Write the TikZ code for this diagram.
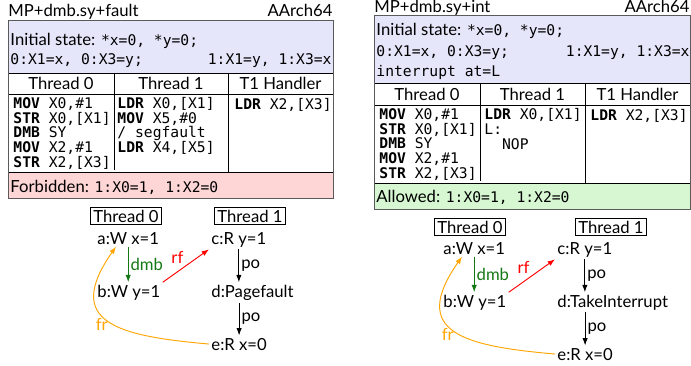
\documentclass[tikz,border=0pt]{standalone}
\usepackage{fontspec}
\setmainfont{Lato}
\setmonofont{DejaVu Sans Mono}
\usetikzlibrary{arrows.meta,positioning}
\definecolor{initcol}{RGB}{230,230,250}
\definecolor{forbcol}{RGB}{255,214,214}
\definecolor{allowcol}{RGB}{214,247,210}
\definecolor{framecol}{RGB}{90,90,90}
\definecolor{dmbcol}{RGB}{20,120,20}
\definecolor{frcol}{RGB}{255,165,0}
\newcommand{\kw}[1]{\textbf{#1}}
\newcommand{\mono}[1]{\texttt{\fontsize{11}{12}\selectfont #1}}

\begin{document}
\begin{tikzpicture}[x=0.75pt,y=0.75pt,line width=0.7pt,
		txt/.style={inner sep=0pt,font=\fontsize{12.5}{14}\selectfont},
		tt/.style={inner sep=0pt,font=\fontsize{11}{12}\ttfamily},
		code/.style={inner sep=0pt,align=left,anchor=base west,font=\fontsize{11}{10.9}\ttfamily},
		ev/.style={inner sep=1.5pt,anchor=base west,font=\fontsize{12.5}{14}\selectfont},
		thr/.style={draw,inner sep=2pt,anchor=base,font=\fontsize{12.5}{14}\selectfont},
		rel/.style={-{Latex[length=5.5pt,width=4pt]}},
		lab/.style={inner sep=1.5pt,font=\fontsize{12.5}{14}\selectfont}]
		\useasboundingbox (0,0) rectangle (691,-365);
		% ---- left test: MP+dmb.sy+fault
		\fill[initcol] (8,-20) rectangle (333,-73);
		\fill[forbcol] (8,-172) rectangle (333,-198);
		\draw (8,-73) -- (333,-73);
		\draw (8,-172) -- (333,-172);
		\draw (8,-94) -- (333,-94);
		\draw (114,-73) -- (114,-170);
		\draw (228,-73) -- (228,-172);
		\draw[framecol] (8,-20) rectangle (333,-198);
		\node[txt,anchor=base west] (nameL) at (8,-16) {MP+dmb.sy+fault};
		\node[txt,anchor=base east] (archL) at (333,-16) {AArch64};
		\node[txt,anchor=base west] (initL) at (10,-45) {Initial state: \mono{*x=0, *y=0;}};
		\node[tt,anchor=base west] (regsL) at (10,-64) {0:X1=x, 0:X3=y;};
		\node[tt,anchor=base east] (regsLb) at (332,-64) {1:X1=y, 1:X3=x};
		\node[txt,anchor=base] (hd0L) at (61,-89) {Thread 0};
		\node[txt,anchor=base] (hd1L) at (171,-89) {Thread 1};
		\node[txt,anchor=base] (hd2L) at (280.5,-89) {T1 Handler};
		% code nodes sit on the baseline of their last line
		\node[code] (c0L) at (13,-167) {\kw{MOV} X0,\#1\\\kw{STR} X0,[X1]\\\kw{DMB} SY\\\kw{MOV} X2,\#1\\\kw{STR} X2,[X3]};
		\node[code] (c1L) at (117,-152.5) {\kw{LDR} X0,[X1]\\\kw{MOV} X5,\#0\\/ segfault\\\kw{LDR} X4,[X5]};
		\node[code] (c2L) at (234,-109) {\kw{LDR} X2,[X3]};
		\node[txt,anchor=base west] (outL) at (10,-192) {Forbidden: \mono{1:X0=1, 1:X2=0}};
		% execution graph
		\node[thr] (th0L) at (126,-222) {Thread 0};
		\node[thr] (th1L) at (250,-222) {Thread 1};
		\node[ev] (aL) at (95,-244) {a:W x=1};
		\node[ev] (bL) at (95,-297) {b:W y=1};
		\node[ev] (cL) at (209,-244) {c:R y=1};
		\node[ev] (dL) at (209,-297) {d:Pagefault};
		\node[ev] (eL) at (209,-350) {e:R x=0};
		\draw[rel,dmbcol] (aL.south) -- (aL.south |- bL.north) node[lab,midway,right] {dmb};
		\draw[rel] (cL.south) -- (cL.south |- dL.north) node[lab,midway,right] {po};
		\draw[rel] (eL.north |- dL.south) -- (eL.north) node[lab,midway,right] {po};
		\draw[rel,red] (bL.north east) -- (cL.south west) node[lab,midway,above left] {rf};
		\draw[rel,frcol] (eL.west) to[out=175,in=235,looseness=1.75] node[lab,pos=0.45,left=3pt] {fr} (aL.215);
		% ---- right test: MP+dmb.sy+int
		\fill[initcol] (374,-15) rectangle (690,-83);
		\fill[allowcol] (374,-183) rectangle (690,-209);
		\draw (374,-83) -- (690,-83);
		\draw (374,-183) -- (690,-183);
		\draw (374,-105) -- (690,-105);
		\draw (480,-83) -- (480,-181);
		\draw (585,-83) -- (585,-183);
		\draw[framecol] (374,-15) rectangle (690,-209);
		\node[txt,anchor=base west] (nameR) at (374,-12) {MP+dmb.sy+int};
		\node[txt,anchor=base east] (archR) at (690,-12) {AArch64};
		\node[txt,anchor=base west] (initR) at (376,-35) {Initial state: \mono{*x=0, *y=0;}};
		\node[tt,anchor=base west] (regsR) at (376,-56) {0:X1=x, 0:X3=y;};
		\node[tt,anchor=base east] (regsRb) at (690,-56) {1:X1=y, 1:X3=x};
		\node[tt,anchor=base west] (intR) at (376,-76) {interrupt at=L};
		\node[txt,anchor=base] (hd0R) at (427,-100) {Thread 0};
		\node[txt,anchor=base] (hd1R) at (532.5,-100) {Thread 1};
		\node[txt,anchor=base] (hd2R) at (637.5,-100) {T1 Handler};
		\node[code] (c0R) at (379,-178) {\kw{MOV} X0,\#1\\\kw{STR} X0,[X1]\\\kw{DMB} SY\\\kw{MOV} X2,\#1\\\kw{STR} X2,[X3]};
		\node[code] (c1R) at (484,-149) {\kw{LDR} X0,[X1]\\L:\\\ \ NOP};
		\node[code] (c2R) at (590,-120) {\kw{LDR} X2,[X3]};
		\node[txt,anchor=base west] (outR) at (376,-202) {Allowed: \mono{1:X0=1, 1:X2=0}};
		% execution graph
		\node[thr] (th0R) at (470,-233) {Thread 0};
		\node[thr] (th1R) at (611,-233) {Thread 1};
		\node[ev] (aR) at (441,-254) {a:W x=1};
		\node[ev] (bR) at (441,-307) {b:W y=1};
		\node[ev] (cR) at (555,-254) {c:R y=1};
		\node[ev] (dR) at (555,-307) {d:TakeInterrupt};
		\node[ev] (eR) at (555,-360) {e:R x=0};
		\draw[rel,dmbcol] (aR.south) -- (aR.south |- bR.north) node[lab,midway,right] {dmb};
		\draw[rel] (cR.south) -- (cR.south |- dR.north) node[lab,midway,right] {po};
		\draw[rel] (eR.north |- dR.south) -- (eR.north) node[lab,midway,right] {po};
		\draw[rel,red] (bR.north east) -- (cR.south west) node[lab,midway,above left] {rf};
		\draw[rel,frcol] (eR.west) to[out=175,in=235,looseness=1.75] node[lab,pos=0.45,left=3pt] {fr} (aR.215);
	\end{tikzpicture}
\end{document}
